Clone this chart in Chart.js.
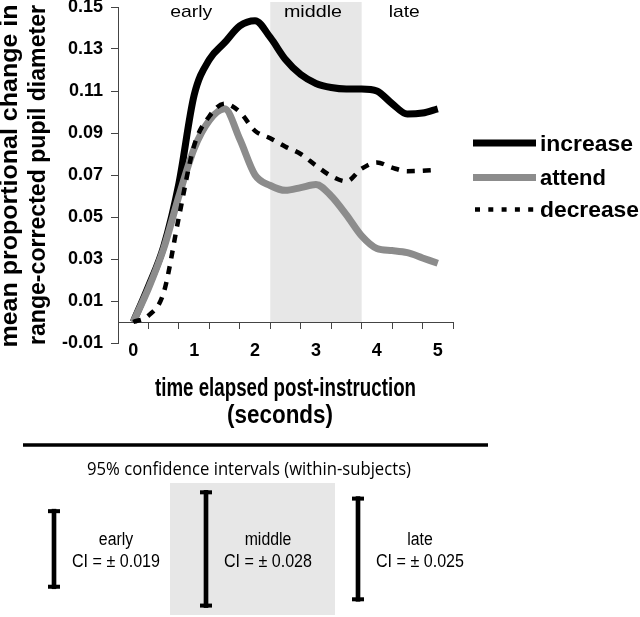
<!DOCTYPE html>
<html>
<head>
<meta charset="utf-8">
<script src="https://cdn.jsdelivr.net/npm/chart.js@4.4.1/dist/chart.umd.min.js"></script>
<style>
html,body{margin:0;padding:0;background:#fff;width:640px;height:617px;overflow:hidden;}
#top{position:absolute;left:0;top:0;width:640px;height:440px;}
#bot{position:absolute;left:0;top:440px;width:640px;height:177px;}
</style>
</head>
<body>
<div id="top"><canvas id="c1"></canvas></div>
<div id="bot"><canvas id="c2"></canvas></div>
<script>
// ---- data ----
const times    = [0, 0.25, 0.5, 0.75, 1, 1.25, 1.5, 1.75, 2, 2.25, 2.5, 2.75, 3, 3.25, 3.5, 3.75, 4, 4.25, 4.5, 4.75, 5];
const increase = [0, 0.017, 0.036, 0.066, 0.108, 0.125, 0.133, 0.141, 0.1435, 0.1355, 0.125, 0.1178, 0.1136, 0.1117, 0.111, 0.111, 0.110, 0.104, 0.099, 0.0995, 0.1015];
const attend   = [0, 0.016, 0.035, 0.060, 0.0825, 0.096, 0.1015, 0.087, 0.070, 0.065, 0.0627, 0.064, 0.0655, 0.060, 0.051, 0.041, 0.035, 0.034, 0.033, 0.0305, 0.028];
const decrease = [0, 0.003, 0.014, 0.050, 0.084, 0.098, 0.104, 0.100, 0.091, 0.0875, 0.0835, 0.080, 0.0745, 0.0695, 0.067, 0.073, 0.076, 0.0735, 0.0718, 0.072, 0.0725];
const seriesNames = ['increase', 'attend', 'decrease'];
const yTickValues = [-0.01, 0.01, 0.03, 0.05, 0.07, 0.09, 0.11, 0.13, 0.15];
const xTickValues = [-0.25, 0, 0.25, 0.5, 0.75, 1, 1.25, 1.5, 1.75, 2, 2.25, 2.5, 2.75, 3, 3.25, 3.5, 3.75, 4, 4.25, 4.5, 4.75, 5, 5.25];
const phases = ['early', 'middle', 'late'];
const middleWindow = [2.25, 3.75];
const ciValues = [0.019, 0.028, 0.025];
const yTitle = ['mean proportional change in', 'range-corrected pupil diameter'];
const xTitle = ['time elapsed post-instruction', '(seconds)'];
const ciTitle = '95% confidence intervals (within-subjects)';

const FAM = '"Liberation Sans", Arial, sans-serif';

function drawText(ctx, text, x, y, opts) {
  ctx.save();
  ctx.font = (opts.weight || 'normal') + ' ' + opts.size + 'px ' + (opts.family || FAM);
  const w = ctx.measureText(text).width;
  ctx.translate(x, y);
  if (opts.rotate) ctx.rotate(-Math.PI / 2);
  const sx = opts.width ? opts.width / w : (opts.sx || 1);
  ctx.scale(sx, 1);
  ctx.textAlign = 'center';
  ctx.textBaseline = 'alphabetic';
  ctx.fillStyle = '#000';
  ctx.fillText(text, 0, 0);
  ctx.restore();
}

const topDecor = {
  id: 'topDecor',
  beforeDraw(chart) {
    const ctx = chart.ctx, xs = chart.scales.x, ys = chart.scales.y;
    const x1 = xs.getPixelForValue(middleWindow[0]);
    const x2 = xs.getPixelForValue(middleWindow[1]);
    const yTop = chart.chartArea.top - 5;
    const yBot = ys.getPixelForValue(0);
    ctx.save();
    ctx.fillStyle = '#e7e7e7';
    ctx.fillRect(x1, yTop, x2 - x1, yBot - yTop);
    ctx.restore();
  },
  afterDraw(chart) {
    const ctx = chart.ctx, xs = chart.scales.x;
    // phase labels
    const wins = [[xs.min, middleWindow[0]], middleWindow, [middleWindow[1], xs.max]];
    const widths = [42, 58, 31];
    phases.forEach((p, i) => {
      const cx = xs.getPixelForValue((wins[i][0] + wins[i][1]) / 2) - 3;
      drawText(ctx, p, cx, 17, {size: 17, width: widths[i]});
    });
    // y title
    drawText(ctx, yTitle[0], 17, 176, {size: 24, weight: 'bold', width: 343, rotate: true});
    drawText(ctx, yTitle[1], 45, 175, {size: 24, weight: 'bold', width: 340, rotate: true});
    // x title
    drawText(ctx, xTitle[0], 285.5, 396, {size: 25, weight: 'bold', width: 261});
    drawText(ctx, xTitle[1], 280, 423, {size: 25, weight: 'bold', width: 106});
    // legend
    const rowsY = [143, 177.5, 209.5];
    const baseY = [151, 185, 217];
    const tw = [93, 66, 99];
    chart.data.datasets.forEach((ds, i) => {
      ctx.save();
      ctx.strokeStyle = ds.borderColor;
      ctx.lineWidth = ds.borderWidth;
      if (i === 2) { ctx.setLineDash([5, 8.3]); ctx.lineWidth = 4.5; }
      ctx.beginPath();
      ctx.moveTo(i === 2 ? 475 : 473, rowsY[i]);
      ctx.lineTo(536, rowsY[i]);
      ctx.stroke();
      ctx.restore();
      drawText(ctx, ds.label, 540 + tw[i] / 2, baseY[i], {size: 22, weight: 'bold', width: tw[i]});
    });
  }
};

const mk = arr => times.map((t, i) => ({x: t, y: arr[i]}));

new Chart(document.getElementById('c1'), {
  type: 'line',
  data: {
    datasets: [
      {label: seriesNames[0], data: mk(increase), borderColor: '#000000', borderWidth: 7, order: 3},
      {label: seriesNames[1], data: mk(attend), borderColor: '#8c8c8c', borderWidth: 7, order: 2},
      {label: seriesNames[2], data: mk(decrease), borderColor: '#000000', borderWidth: 4.5, borderDash: [8, 8], order: 1}
    ]
  },
  options: {
    responsive: true,
    maintainAspectRatio: false,
    animation: false,
    devicePixelRatio: 1,
    layout: {padding: {left: 0, top: 7, right: 187, bottom: 97}},
    elements: {
      point: {radius: 0},
      line: {cubicInterpolationMode: 'monotone', fill: false, borderJoinStyle: 'round', borderCapStyle: 'butt'}
    },
    plugins: {legend: {display: false}, tooltip: {enabled: false}},
    scales: {
      x: {
        type: 'linear',
        position: {y: 0},
        min: -0.25, max: 5.25,
        afterBuildTicks: s => { s.ticks = xTickValues.map(v => ({value: v})); },
        afterFit: s => { s.height = 0; s.paddingLeft = 0; s.paddingRight = 0; },
        ticks: {
          autoSkip: false, maxRotation: 0, padding: 12, color: '#000',
          font: {family: FAM, size: 18, weight: 'bold'},
          callback: v => (Math.abs(v - Math.round(v)) < 1e-9 ? String(Math.round(v)) : '')
        },
        grid: {
          drawOnChartArea: false, drawTicks: true, tickLength: 6, lineWidth: 1,
          tickColor: c => {
            const v = c.tick ? c.tick.value : 0;
            const k = (v + 0.25) / 0.5;
            return Math.abs(k - Math.round(k)) < 1e-9 ? '#444' : 'rgba(0,0,0,0)';
          }
        },
        border: {display: true, color: '#444', width: 1}
      },
      y: {
        type: 'linear',
        position: 'left',
        min: -0.01, max: 0.15,
        afterBuildTicks: s => { s.ticks = yTickValues.map(v => ({value: v})); },
        afterFit: s => { s.width = 118; s.paddingTop = 0; s.paddingBottom = 0; },
        ticks: {
          autoSkip: false, padding: 8, color: '#000',
          font: {family: FAM, size: 18, weight: 'bold'},
          callback: v => v.toFixed(2)
        },
        grid: {drawOnChartArea: false, drawTicks: true, tickLength: 7, color: '#444', lineWidth: 1},
        border: {display: true, color: '#444', width: 1}
      }
    }
  },
  plugins: [topDecor]
});

// ---- bottom panel: confidence intervals ----
const ciDecor = {
  id: 'ciDecor',
  beforeDatasetsDraw(chart) {
    const ctx = chart.ctx, xs = chart.scales.x, area = chart.chartArea;
    // separator
    ctx.save();
    ctx.strokeStyle = '#000';
    ctx.lineWidth = 3.5;
    ctx.beginPath();
    ctx.moveTo(23, 5);
    ctx.lineTo(488, 5);
    ctx.stroke();
    ctx.restore();
    drawText(ctx, ciTitle, 249, 35, {size: 18, family: '"Open Sans", "Noto Sans", sans-serif', width: 324});
    // grey band behind middle interval
    const mx = xs.getPixelForValue(1);
    ctx.save();
    ctx.fillStyle = '#e7e7e7';
    ctx.fillRect(mx - 36, area.top, 165, area.bottom - area.top - 2);
    ctx.restore();
  },
  afterDatasetsDraw(chart) {
    const ctx = chart.ctx;
    const meta = chart.getDatasetMeta(0);
    meta.data.forEach((bar, i) => {
      const p = bar.getProps(['x', 'y', 'base'], true);
      const top = Math.min(p.y, p.base), bot = Math.max(p.y, p.base);
      ctx.save();
      ctx.fillStyle = '#000';
      ctx.fillRect(p.x - 6, top, 12, 4);
      ctx.fillRect(p.x - 6, bot - 4, 12, 4);
      ctx.restore();
      const cx = p.x + 62;
      drawText(ctx, phases[i], cx, 105, {size: 18, sx: 0.88});
      drawText(ctx, 'CI = \u00b1 ' + ciValues[i].toFixed(3), cx, 127, {size: 19, width: 88});
    });
  }
};

new Chart(document.getElementById('c2'), {
  type: 'bar',
  data: {
    labels: phases,
    datasets: [{data: ciValues.map(c => [-c, c]), backgroundColor: '#000', barThickness: 4, clip: false}]
  },
  options: {
    responsive: true,
    maintainAspectRatio: false,
    animation: false,
    devicePixelRatio: 1,
    layout: {padding: {left: 54, right: 282, top: 43, bottom: 0}},
    plugins: {legend: {display: false}, tooltip: {enabled: false}},
    scales: {
      x: {display: false, offset: false},
      y: {display: false, min: -0.0325, max: 0.0315}
    }
  },
  plugins: [ciDecor]
});
</script>
</body>
</html>
